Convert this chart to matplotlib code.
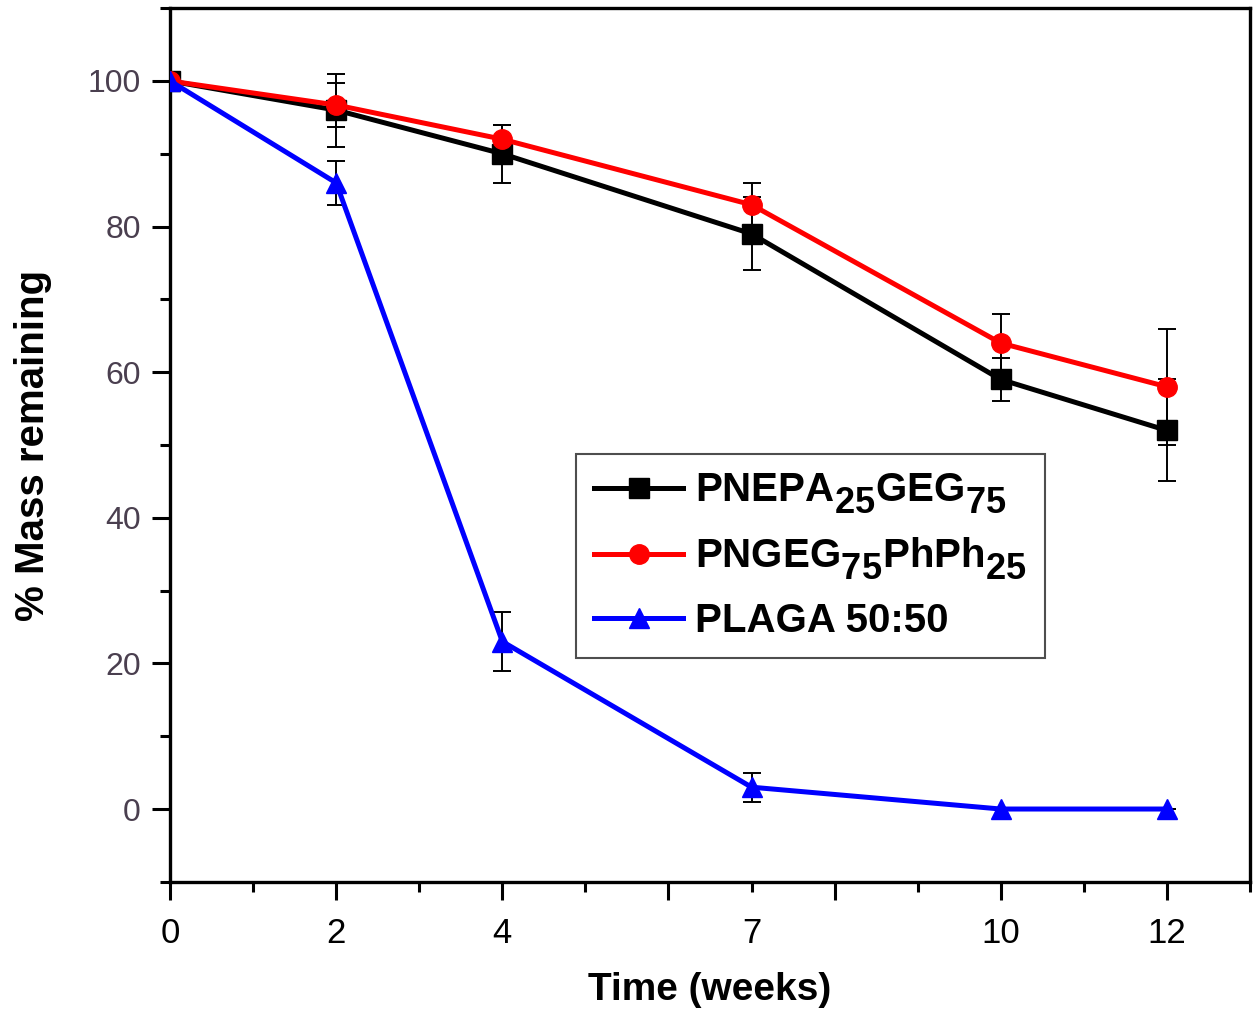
import matplotlib
matplotlib.use('Agg')
import matplotlib.pyplot as plt
import matplotlib._mathtext as mtext
from matplotlib.ticker import FixedLocator, MultipleLocator, FuncFormatter

plt.rcParams['font.family'] = ['Liberation Sans', 'DejaVu Sans']
plt.rcParams['mathtext.fontset'] = 'custom'
plt.rcParams['mathtext.rm'] = 'Liberation Sans:bold'
plt.rcParams['mathtext.bf'] = 'Liberation Sans:bold'
plt.rcParams['mathtext.default'] = 'rm'
# legend subscripts in the original are nearly full size and sit low
mtext.SHRINK_FACTOR = 0.9
mtext.FontConstantsBase.sub1 = 0.55

# data
weeks = [0, 2, 4, 7, 10, 12]
week_labels = ['0', '2', '4', '7', '10', '12']

pnepa = [100, 96, 90, 79, 59, 52]
pnepa_err = [0, 5, 4, 5, 3, 7]

pngeg = [100, 96.7, 92, 83, 64, 58]
pngeg_err = [0, 3, 2, 3, 4, 8]

plaga = [100, 86, 23, 3, 0, 0]
plaga_err = [0, 3, 4, 2, 0, 0]

series = [
    (pnepa, pnepa_err, 'black', 's', r'PNEPA$_{25}$GEG$_{75}$'),
    (pngeg, pngeg_err, 'red', 'o', r'PNGEG$_{75}$PhPh$_{25}$'),
    (plaga, plaga_err, 'blue', '^', 'PLAGA 50:50'),
]

fig = plt.figure(figsize=(12.6, 10.23), dpi=100)
ax = fig.add_axes([0.135, 0.138, 0.857, 0.854])

for y, err, color, marker, label in series:
    ax.errorbar(weeks, y, yerr=err, fmt='none', ecolor='black',
                elinewidth=1.4, capsize=6.5, capthick=1.4, zorder=2)
    ax.plot(weeks, y, color=color, marker=marker, markersize=14,
            linewidth=3.6, label=label, zorder=3)

ax.set_xlim(0, 13)
ax.set_ylim(-10, 110)

# major ticks at even weeks, minor at odd; labels only at sampled weeks
ax.xaxis.set_major_locator(MultipleLocator(2))
ax.xaxis.set_minor_locator(FixedLocator([1, 3, 5, 7, 9, 11, 13]))
lab = dict(zip(weeks, week_labels))
fmt = FuncFormatter(lambda v, p: lab.get(int(round(v)), '') if abs(v - round(v)) < 1e-6 else '')
ax.xaxis.set_major_formatter(fmt)
ax.xaxis.set_minor_formatter(fmt)

ax.yaxis.set_major_locator(MultipleLocator(20))
ax.yaxis.set_minor_locator(MultipleLocator(10))

ax.tick_params(axis='both', which='major', length=13, width=2.2, direction='out')
ax.tick_params(axis='both', which='minor', length=7, width=2.2, direction='out')
ax.tick_params(axis='x', which='major', labelsize=25, pad=12, labelcolor='black')
ax.tick_params(axis='x', which='minor', labelsize=25, pad=18, labelcolor='black')
ax.tick_params(axis='y', which='both', labelsize=23, pad=8, labelcolor='#4a3f4f')
for s in ax.spines.values():
    s.set_linewidth(2.4)

ax.set_xlabel('Time (weeks)', fontsize=28, fontweight='bold', labelpad=16)
ax.set_ylabel('% Mass remaining', fontsize=29, fontweight='bold', labelpad=26)

leg = ax.legend(loc='upper left', bbox_to_anchor=(0.376, 0.49),
                prop={'weight': 'bold', 'size': 29}, frameon=True, fancybox=False,
                edgecolor='#222222', handlelength=2.2, handletextpad=0.3,
                borderpad=0.45, labelspacing=0.5, borderaxespad=0)
leg.get_frame().set_linewidth(1.5)

plt.savefig('out.png', dpi=100)
